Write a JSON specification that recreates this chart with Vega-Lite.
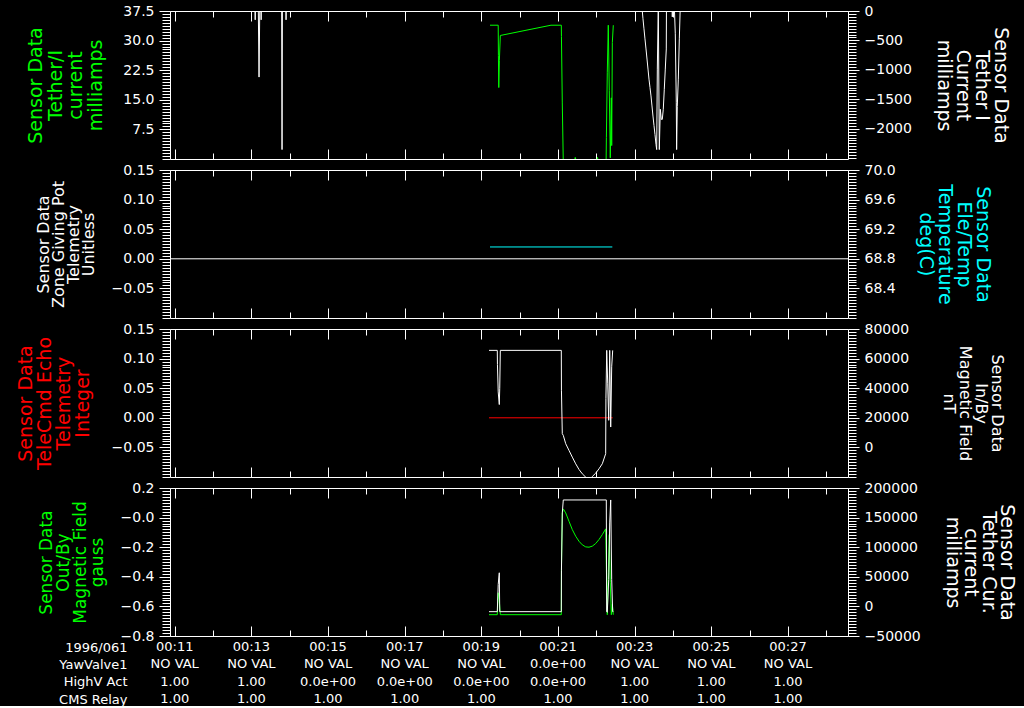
{
"$schema": "https://vega.github.io/schema/vega-lite/v6.json",
"background": "black",
"padding": {"left": 15, "top": 3, "right": 8, "bottom": 0},
"bounds": "flush",
"spacing": 11,
"datasets": {
"p1L": [{"t":19.226,"v":33.9},{"t":19.44,"v":33.9},{"t":19.445,"v":26.2},{"t":19.455,"v":18.1},{"t":19.47,"v":24.9},{"t":19.495,"v":31.3},{"t":20.817,"v":33.9},{"t":21.086,"v":33.9},{"t":21.09,"v":31.0},{"t":21.112,"v":14.2},{"t":21.138,"v":-1},{"t":21.42,"v":-1},{"t":21.45,"v":0.4},{"t":21.49,"v":-1},{"t":22.0,"v":-1},{"t":22.03,"v":0.4},{"t":22.06,"v":-1},{"t":22.255,"v":-1},{"t":22.262,"v":5.4},{"t":22.286,"v":22.0},{"t":22.312,"v":33.9},{"t":22.338,"v":17.3},{"t":22.364,"v":0.3},{"t":22.391,"v":15.5},{"t":22.401,"v":3.4},{"t":22.417,"v":29.5},{"t":22.443,"v":33.9}],
"p1R": [{"t":11.0,"v":100},{"t":13.09,"v":100},{"t":13.1,"v":-150},{"t":13.11,"v":100},{"t":13.18,"v":100},{"t":13.2,"v":-1123},{"t":13.22,"v":100},{"t":13.25,"v":100},{"t":13.255,"v":-150},{"t":13.26,"v":100},{"t":13.79,"v":100},{"t":13.8,"v":-2355},{"t":13.81,"v":100},{"t":13.9,"v":100},{"t":13.905,"v":-150},{"t":13.91,"v":100},{"t":23.19,"v":100},{"t":23.199,"v":0},{"t":23.217,"v":-132},{"t":23.243,"v":-303},{"t":23.269,"v":-474},{"t":23.296,"v":-645},{"t":23.322,"v":-816},{"t":23.348,"v":-987},{"t":23.374,"v":-1158},{"t":23.4,"v":-1300},{"t":23.426,"v":-1443},{"t":23.452,"v":-1614},{"t":23.478,"v":-1785},{"t":23.504,"v":-1944},{"t":23.53,"v":-2098},{"t":23.557,"v":-2269},{"t":23.575,"v":-2355},{"t":23.591,"v":-987},{"t":23.617,"v":100},{"t":23.643,"v":-2355},{"t":23.669,"v":-1670},{"t":23.695,"v":-1842},{"t":23.721,"v":-1842},{"t":23.747,"v":-1670},{"t":23.773,"v":-1330},{"t":23.799,"v":-987},{"t":23.825,"v":-645},{"t":23.83,"v":100},{"t":23.975,"v":100},{"t":23.982,"v":-100},{"t":23.99,"v":100},{"t":24.034,"v":100},{"t":24.06,"v":-388},{"t":24.086,"v":-1550},{"t":24.095,"v":-2355},{"t":24.112,"v":-1620},{"t":24.139,"v":-1158},{"t":24.165,"v":-474},{"t":24.191,"v":100},{"t":24.5,"v":100}],
"p2L": [{"t":10.877,"v":0},{"t":28.566,"v":0}],
"p2R": [{"t":19.226,"v":68.96},{"t":22.417,"v":68.96}],
"p3L": [{"t":19.2,"v":0},{"t":22.427,"v":0}],
"p3R": [{"t":19.2,"v":65560},{"t":19.416,"v":65560},{"t":19.42,"v":56070},{"t":19.44,"v":37490},{"t":19.468,"v":28950},{"t":19.48,"v":40000},{"t":19.495,"v":65560},{"t":21.086,"v":65560},{"t":21.09,"v":38640},{"t":21.112,"v":9280},{"t":21.138,"v":8130},{"t":21.201,"v":2500},{"t":21.287,"v":-2040},{"t":21.373,"v":-6580},{"t":21.462,"v":-11100},{"t":21.548,"v":-14920},{"t":21.634,"v":-17840},{"t":21.723,"v":-20100},{"t":21.809,"v":-22000},{"t":21.895,"v":-19660},{"t":21.984,"v":-17400},{"t":22.07,"v":-14450},{"t":22.156,"v":-11060},{"t":22.244,"v":-4280},{"t":22.25,"v":33000},{"t":22.271,"v":65560},{"t":22.297,"v":43400},{"t":22.323,"v":18300},{"t":22.349,"v":65560},{"t":22.375,"v":13760},{"t":22.401,"v":54440},{"t":22.427,"v":65560}],
"p4L": [{"t":19.2,"v":-0.656},{"t":19.416,"v":-0.656},{"t":19.44,"v":-0.508},{"t":19.468,"v":-0.56},{"t":19.495,"v":-0.656},{"t":21.086,"v":-0.656},{"t":21.09,"v":-0.35},{"t":21.112,"v":0.03},{"t":21.138,"v":0.0585},{"t":21.201,"v":0.0315},{"t":21.287,"v":-0.025},{"t":21.373,"v":-0.081},{"t":21.462,"v":-0.126},{"t":21.548,"v":-0.16},{"t":21.634,"v":-0.184},{"t":21.723,"v":-0.198},{"t":21.809,"v":-0.2},{"t":21.895,"v":-0.193},{"t":21.984,"v":-0.175},{"t":22.07,"v":-0.148},{"t":22.156,"v":-0.115},{"t":22.244,"v":-0.076},{"t":22.26,"v":-0.328},{"t":22.286,"v":-0.656},{"t":22.312,"v":-0.373},{"t":22.338,"v":-0.115},{"t":22.364,"v":-0.44},{"t":22.391,"v":-0.656},{"t":22.417,"v":-0.586},{"t":22.443,"v":-0.656}],
"p4R": [{"t":19.2,"v":-8900},{"t":19.416,"v":-8900},{"t":19.44,"v":37100},{"t":19.468,"v":56800},{"t":19.48,"v":-8900},{"t":21.086,"v":-8900},{"t":21.09,"v":60000},{"t":21.112,"v":157900},{"t":21.138,"v":179800},{"t":22.26,"v":179800},{"t":22.27,"v":-8900},{"t":22.286,"v":-10000},{"t":22.323,"v":45500},{"t":22.349,"v":141000},{"t":22.375,"v":179800},{"t":22.401,"v":45500},{"t":22.427,"v":-8900},{"t":22.443,"v":-8900}],
"tbl": [
{"t":11,"row":"1996/061","label":"00:11"},{"t":13,"row":"1996/061","label":"00:13"},{"t":15,"row":"1996/061","label":"00:15"},{"t":17,"row":"1996/061","label":"00:17"},{"t":19,"row":"1996/061","label":"00:19"},{"t":21,"row":"1996/061","label":"00:21"},{"t":23,"row":"1996/061","label":"00:23"},{"t":25,"row":"1996/061","label":"00:25"},{"t":27,"row":"1996/061","label":"00:27"},
{"t":11,"row":"YawValve1","label":"NO VAL"},{"t":13,"row":"YawValve1","label":"NO VAL"},{"t":15,"row":"YawValve1","label":"NO VAL"},{"t":17,"row":"YawValve1","label":"NO VAL"},{"t":19,"row":"YawValve1","label":"NO VAL"},{"t":21,"row":"YawValve1","label":"0.0e+00"},{"t":23,"row":"YawValve1","label":"NO VAL"},{"t":25,"row":"YawValve1","label":"NO VAL"},{"t":27,"row":"YawValve1","label":"NO VAL"},
{"t":11,"row":"HighV Act","label":"1.00"},{"t":13,"row":"HighV Act","label":"1.00"},{"t":15,"row":"HighV Act","label":"0.0e+00"},{"t":17,"row":"HighV Act","label":"0.0e+00"},{"t":19,"row":"HighV Act","label":"0.0e+00"},{"t":21,"row":"HighV Act","label":"0.0e+00"},{"t":23,"row":"HighV Act","label":"1.00"},{"t":25,"row":"HighV Act","label":"1.00"},{"t":27,"row":"HighV Act","label":"1.00"},
{"t":11,"row":"CMS Relay","label":"1.00"},{"t":13,"row":"CMS Relay","label":"1.00"},{"t":15,"row":"CMS Relay","label":"1.00"},{"t":17,"row":"CMS Relay","label":"1.00"},{"t":19,"row":"CMS Relay","label":"1.00"},{"t":21,"row":"CMS Relay","label":"1.00"},{"t":23,"row":"CMS Relay","label":"1.00"},{"t":25,"row":"CMS Relay","label":"1.00"},{"t":27,"row":"CMS Relay","label":"1.00"}
]
},
"vconcat": [
{
"width": 678, "height": 148,
"resolve": {"scale": {"y": "independent"}, "axis": {"x": "independent"}},
"layer": [
{"data": {"name": "p1L"}, "mark": {"type": "line", "color": "#00ff00", "strokeWidth": 1, "clip": true},
 "encoding": {
  "x": {"field": "t", "type": "quantitative", "scale": {"domain": [10.877, 28.566], "nice": false, "zero": false}, "axis": {"orient": "bottom", "values": [11,13,15,17,19,21,23,25,27], "tickSize": -10, "labels": false, "title": null}},
  "y": {"field": "v", "type": "quantitative", "scale": {"domain": [0, 37.5], "nice": false, "zero": false}, "axis": {"orient": "left", "values": [7.5,15,22.5,30,37.5], "format": ".1f", "tickSize": 11, "title": ["Sensor Data","Tether/I","current","milliamps"], "titleColor": "#00ff00", "titleFontSize": 19, "titleLineHeight": 20, "titlePadding": 17}}}},
{"data": {"name": "p1R"}, "mark": {"type": "line", "color": "white", "strokeWidth": 1, "clip": true},
 "encoding": {
  "x": {"field": "t", "type": "quantitative", "scale": {"domain": [10.877, 28.566], "nice": false, "zero": false}, "axis": {"orient": "top", "values": [11,13,15,17,19,21,23,25,27], "tickSize": -10, "labels": false, "title": null}},
  "y": {"field": "v", "type": "quantitative", "scale": {"domain": [-2515, 0], "nice": false, "zero": false}, "axis": {"orient": "right", "values": [-2000,-1500,-1000,-500,0], "format": "d", "tickSize": 11, "title": ["Sensor Data","Tether I","Current","milliamps"], "titleFontSize": 19, "titleLineHeight": 19, "titlePadding": 22}}}},
{"data": {"name": "p1L"}, "mark": {"type": "line", "opacity": 0},
 "encoding": {
  "x": {"field": "t", "type": "quantitative", "scale": {"domain": [10.877, 28.566], "nice": false, "zero": false}, "axis": {"orient": "bottom", "values": [12,14,16,18,20,22,24,26,28], "tickSize": -6, "labels": false, "title": null}},
  "y": {"field": "v", "type": "quantitative", "scale": {"domain": [0, 37.5], "nice": false, "zero": false}, "axis": {"orient": "left", "values": [0,0.75,1.5,2.25,3,3.75,4.5,5.25,6,6.75,7.5,8.25,9,9.75,10.5,11.25,12,12.75,13.5,14.25,15,15.75,16.5,17.25,18,18.75,19.5,20.25,21,21.75,22.5,23.25,24,24.75,25.5,26.25,27,27.75,28.5,29.25,30,30.75,31.5,32.25,33,33.75,34.5,35.25,36,36.75,37.5], "tickSize": 8, "labels": false, "title": null}}}},
{"data": {"name": "p1R"}, "mark": {"type": "line", "opacity": 0},
 "encoding": {
  "x": {"field": "t", "type": "quantitative", "scale": {"domain": [10.877, 28.566], "nice": false, "zero": false}, "axis": {"orient": "top", "values": [12,14,16,18,20,22,24,26,28], "tickSize": -6, "labels": false, "title": null}},
  "y": {"field": "v", "type": "quantitative", "scale": {"domain": [-2515, 0], "nice": false, "zero": false}, "axis": {"orient": "right", "values": [-2500,-2450,-2400,-2350,-2300,-2250,-2200,-2150,-2100,-2050,-2000,-1950,-1900,-1850,-1800,-1750,-1700,-1650,-1600,-1550,-1500,-1450,-1400,-1350,-1300,-1250,-1200,-1150,-1100,-1050,-1000,-950,-900,-850,-800,-750,-700,-650,-600,-550,-500,-450,-400,-350,-300,-250,-200,-150,-100,-50,0], "tickSize": 8, "labels": false, "title": null}}}}
]
},
{
"width": 678, "height": 148,
"resolve": {"scale": {"y": "independent"}, "axis": {"x": "independent"}},
"layer": [
{"data": {"name": "p2L"}, "mark": {"type": "line", "color": "white", "strokeWidth": 1, "clip": true},
 "encoding": {
  "x": {"field": "t", "type": "quantitative", "scale": {"domain": [10.877, 28.566], "nice": false, "zero": false}, "axis": {"orient": "bottom", "values": [11,13,15,17,19,21,23,25,27], "tickSize": -10, "labels": false, "title": null}},
  "y": {"field": "v", "type": "quantitative", "scale": {"domain": [-0.1, 0.15], "nice": false, "zero": false}, "axis": {"orient": "left", "values": [-0.05,0,0.05,0.1,0.15], "format": ".2f", "tickSize": 11, "title": ["Sensor Data","Zone Giving Pot","Telemetry","Unitless"], "titleFontSize": 16, "titleLineHeight": 15, "titlePadding": 15}}}},
{"data": {"name": "p2R"}, "mark": {"type": "line", "color": "#00ffff", "strokeWidth": 1, "clip": true},
 "encoding": {
  "x": {"field": "t", "type": "quantitative", "scale": {"domain": [10.877, 28.566], "nice": false, "zero": false}, "axis": {"orient": "top", "values": [11,13,15,17,19,21,23,25,27], "tickSize": -10, "labels": false, "title": null}},
  "y": {"field": "v", "type": "quantitative", "scale": {"domain": [68, 70], "nice": false, "zero": false}, "axis": {"orient": "right", "values": [68.4,68.8,69.2,69.6,70], "format": ".1f", "tickSize": 11, "title": ["Sensor Data","Ele/Temp","Temperature","deg(C)"], "titleColor": "#00ffff", "titleFontSize": 19, "titleLineHeight": 19, "titlePadding": 20}}}},
{"data": {"name": "p2L"}, "mark": {"type": "line", "opacity": 0},
 "encoding": {
  "x": {"field": "t", "type": "quantitative", "scale": {"domain": [10.877, 28.566], "nice": false, "zero": false}, "axis": {"orient": "bottom", "values": [12,14,16,18,20,22,24,26,28], "tickSize": -6, "labels": false, "title": null}},
  "y": {"field": "v", "type": "quantitative", "scale": {"domain": [-0.1, 0.15], "nice": false, "zero": false}, "axis": {"orient": "left", "values": [-0.1,-0.095,-0.09,-0.085,-0.08,-0.075,-0.07,-0.065,-0.06,-0.055,-0.05,-0.045,-0.04,-0.035,-0.03,-0.025,-0.02,-0.015,-0.01,-0.005,0,0.005,0.01,0.015,0.02,0.025,0.03,0.035,0.04,0.045,0.05,0.055,0.06,0.065,0.07,0.075,0.08,0.085,0.09,0.095,0.1,0.105,0.11,0.115,0.12,0.125,0.13,0.135,0.14,0.145,0.15], "tickSize": 8, "labels": false, "title": null}}}},
{"data": {"name": "p2R"}, "mark": {"type": "line", "opacity": 0},
 "encoding": {
  "x": {"field": "t", "type": "quantitative", "scale": {"domain": [10.877, 28.566], "nice": false, "zero": false}, "axis": {"orient": "top", "values": [12,14,16,18,20,22,24,26,28], "tickSize": -6, "labels": false, "title": null}},
  "y": {"field": "v", "type": "quantitative", "scale": {"domain": [68, 70], "nice": false, "zero": false}, "axis": {"orient": "right", "values": [68,68.04,68.08,68.12,68.16,68.2,68.24,68.28,68.32,68.36,68.4,68.44,68.48,68.52,68.56,68.6,68.64,68.68,68.72,68.76,68.8,68.84,68.88,68.92,68.96,69,69.04,69.08,69.12,69.16,69.2,69.24,69.28,69.32,69.36,69.4,69.44,69.48,69.52,69.56,69.6,69.64,69.68,69.72,69.76,69.8,69.84,69.88,69.92,69.96,70], "tickSize": 8, "labels": false, "title": null}}}}
]
},
{
"width": 678, "height": 148,
"resolve": {"scale": {"y": "independent"}, "axis": {"x": "independent"}},
"layer": [
{"data": {"name": "p3L"}, "mark": {"type": "line", "color": "#ff0000", "strokeWidth": 1, "clip": true},
 "encoding": {
  "x": {"field": "t", "type": "quantitative", "scale": {"domain": [10.877, 28.566], "nice": false, "zero": false}, "axis": {"orient": "bottom", "values": [11,13,15,17,19,21,23,25,27], "tickSize": -10, "labels": false, "title": null}},
  "y": {"field": "v", "type": "quantitative", "scale": {"domain": [-0.1, 0.15], "nice": false, "zero": false}, "axis": {"orient": "left", "values": [-0.05,0,0.05,0.1,0.15], "format": ".2f", "tickSize": 11, "title": ["Sensor Data","TeleCmd Echo","Telemetry","Integer"], "titleColor": "#ff0000", "titleFontSize": 19, "titleLineHeight": 19, "titlePadding": 19}}}},
{"data": {"name": "p3R"}, "mark": {"type": "line", "color": "white", "strokeWidth": 1, "clip": true},
 "encoding": {
  "x": {"field": "t", "type": "quantitative", "scale": {"domain": [10.877, 28.566], "nice": false, "zero": false}, "axis": {"orient": "top", "values": [11,13,15,17,19,21,23,25,27], "tickSize": -10, "labels": false, "title": null}},
  "y": {"field": "v", "type": "quantitative", "scale": {"domain": [-20000, 80000], "nice": false, "zero": false}, "axis": {"orient": "right", "values": [0,20000,40000,60000,80000], "format": "d", "tickSize": 11, "title": ["Sensor Data","In/By","Magnetic Field","nT"], "titleFontSize": 16, "titleLineHeight": 16, "titlePadding": 32}}}},
{"data": {"name": "p3L"}, "mark": {"type": "line", "opacity": 0},
 "encoding": {
  "x": {"field": "t", "type": "quantitative", "scale": {"domain": [10.877, 28.566], "nice": false, "zero": false}, "axis": {"orient": "bottom", "values": [12,14,16,18,20,22,24,26,28], "tickSize": -6, "labels": false, "title": null}},
  "y": {"field": "v", "type": "quantitative", "scale": {"domain": [-0.1, 0.15], "nice": false, "zero": false}, "axis": {"orient": "left", "values": [-0.1,-0.095,-0.09,-0.085,-0.08,-0.075,-0.07,-0.065,-0.06,-0.055,-0.05,-0.045,-0.04,-0.035,-0.03,-0.025,-0.02,-0.015,-0.01,-0.005,0,0.005,0.01,0.015,0.02,0.025,0.03,0.035,0.04,0.045,0.05,0.055,0.06,0.065,0.07,0.075,0.08,0.085,0.09,0.095,0.1,0.105,0.11,0.115,0.12,0.125,0.13,0.135,0.14,0.145,0.15], "tickSize": 8, "labels": false, "title": null}}}},
{"data": {"name": "p3R"}, "mark": {"type": "line", "opacity": 0},
 "encoding": {
  "x": {"field": "t", "type": "quantitative", "scale": {"domain": [10.877, 28.566], "nice": false, "zero": false}, "axis": {"orient": "top", "values": [12,14,16,18,20,22,24,26,28], "tickSize": -6, "labels": false, "title": null}},
  "y": {"field": "v", "type": "quantitative", "scale": {"domain": [-20000, 80000], "nice": false, "zero": false}, "axis": {"orient": "right", "values": [-20000,-18000,-16000,-14000,-12000,-10000,-8000,-6000,-4000,-2000,0,2000,4000,6000,8000,10000,12000,14000,16000,18000,20000,22000,24000,26000,28000,30000,32000,34000,36000,38000,40000,42000,44000,46000,48000,50000,52000,54000,56000,58000,60000,62000,64000,66000,68000,70000,72000,74000,76000,78000,80000], "tickSize": 8, "labels": false, "title": null}}}}
]
},
{
"width": 678, "height": 148,
"resolve": {"scale": {"y": "independent"}, "axis": {"x": "independent"}},
"layer": [
{"data": {"name": "p4L"}, "mark": {"type": "line", "color": "#00ff00", "strokeWidth": 1, "clip": true},
 "encoding": {
  "x": {"field": "t", "type": "quantitative", "scale": {"domain": [10.877, 28.566], "nice": false, "zero": false}, "axis": {"orient": "bottom", "values": [11,13,15,17,19,21,23,25,27], "tickSize": -10, "labels": false, "title": null}},
  "y": {"field": "v", "type": "quantitative", "scale": {"domain": [-0.8, 0.2], "nice": false, "zero": false}, "axis": {"orient": "left", "values": [-0.8,-0.6,-0.4,-0.2,0,0.2], "labelExpr": "datum.value == 0 ? '\u22120.0' : format(datum.value, '.1f')", "tickSize": 11, "title": ["Sensor Data","Out/By","Magnetic Field","gauss"], "titleColor": "#00ff00", "titleFontSize": 17, "titleLineHeight": 17, "titlePadding": 14}}}},
{"data": {"name": "p4R"}, "mark": {"type": "line", "color": "white", "strokeWidth": 1, "clip": true},
 "encoding": {
  "x": {"field": "t", "type": "quantitative", "scale": {"domain": [10.877, 28.566], "nice": false, "zero": false}, "axis": {"orient": "top", "values": [11,13,15,17,19,21,23,25,27], "tickSize": -10, "labels": false, "title": null}},
  "y": {"field": "v", "type": "quantitative", "scale": {"domain": [-50000, 200000], "nice": false, "zero": false}, "axis": {"orient": "right", "values": [-50000,0,50000,100000,150000,200000], "format": "d", "tickSize": 11, "title": ["Sensor Data","Tether Cur.","current","milliamps"], "titleFontSize": 19, "titleLineHeight": 18, "titlePadding": 22}}}},
{"data": {"name": "p4L"}, "mark": {"type": "line", "opacity": 0},
 "encoding": {
  "x": {"field": "t", "type": "quantitative", "scale": {"domain": [10.877, 28.566], "nice": false, "zero": false}, "axis": {"orient": "bottom", "values": [12,14,16,18,20,22,24,26,28], "tickSize": -6, "labels": false, "title": null}},
  "y": {"field": "v", "type": "quantitative", "scale": {"domain": [-0.8, 0.2], "nice": false, "zero": false}, "axis": {"orient": "left", "values": [-0.8,-0.78,-0.76,-0.74,-0.72,-0.7,-0.68,-0.66,-0.64,-0.62,-0.6,-0.58,-0.56,-0.54,-0.52,-0.5,-0.48,-0.46,-0.44,-0.42,-0.4,-0.38,-0.36,-0.34,-0.32,-0.3,-0.28,-0.26,-0.24,-0.22,-0.2,-0.18,-0.16,-0.14,-0.12,-0.1,-0.08,-0.06,-0.04,-0.02,0,0.02,0.04,0.06,0.08,0.1,0.12,0.14,0.16,0.18,0.2], "tickSize": 8, "labels": false, "title": null}}}},
{"data": {"name": "p4R"}, "mark": {"type": "line", "opacity": 0},
 "encoding": {
  "x": {"field": "t", "type": "quantitative", "scale": {"domain": [10.877, 28.566], "nice": false, "zero": false}, "axis": {"orient": "top", "values": [12,14,16,18,20,22,24,26,28], "tickSize": -6, "labels": false, "title": null}},
  "y": {"field": "v", "type": "quantitative", "scale": {"domain": [-50000, 200000], "nice": false, "zero": false}, "axis": {"orient": "right", "values": [-50000,-45000,-40000,-35000,-30000,-25000,-20000,-15000,-10000,-5000,0,5000,10000,15000,20000,25000,30000,35000,40000,45000,50000,55000,60000,65000,70000,75000,80000,85000,90000,95000,100000,105000,110000,115000,120000,125000,130000,135000,140000,145000,150000,155000,160000,165000,170000,175000,180000,185000,190000,195000,200000], "tickSize": 8, "labels": false, "title": null}}}}
]
},
{
"width": 678, "height": 52,
"data": {"name": "tbl"},
"view": {"stroke": null},
"mark": {"type": "text", "color": "white", "font": "DejaVu Sans", "fontSize": 13, "baseline": "middle", "align": "center"},
"encoding": {
 "x": {"field": "t", "type": "quantitative", "scale": {"domain": [10.877, 28.566], "nice": false, "zero": false}, "axis": null},
 "y": {"field": "row", "type": "nominal", "sort": ["1996/061","YawValve1","HighV Act","CMS Relay"], "scale": {"type": "point", "padding": 0}, "axis": {"orient": "left", "ticks": false, "tickSize": 0, "labelPadding": 43, "labelFontSize": 13, "title": null}},
 "text": {"field": "label"}
}
}
],
"config": {
 "background": "black",
 "view": {"stroke": "white", "strokeWidth": 1},
 "axis": {"domain": false, "grid": false, "tickColor": "white", "tickWidth": 1, "labelColor": "white", "labelFont": "DejaVu Sans", "labelFontSize": 14, "labelFlush": false, "labelOverlap": false, "labelBound": false, "labelPadding": 5, "titleColor": "white", "titleFont": "DejaVu Sans", "titleFontWeight": "normal"}
}
}
